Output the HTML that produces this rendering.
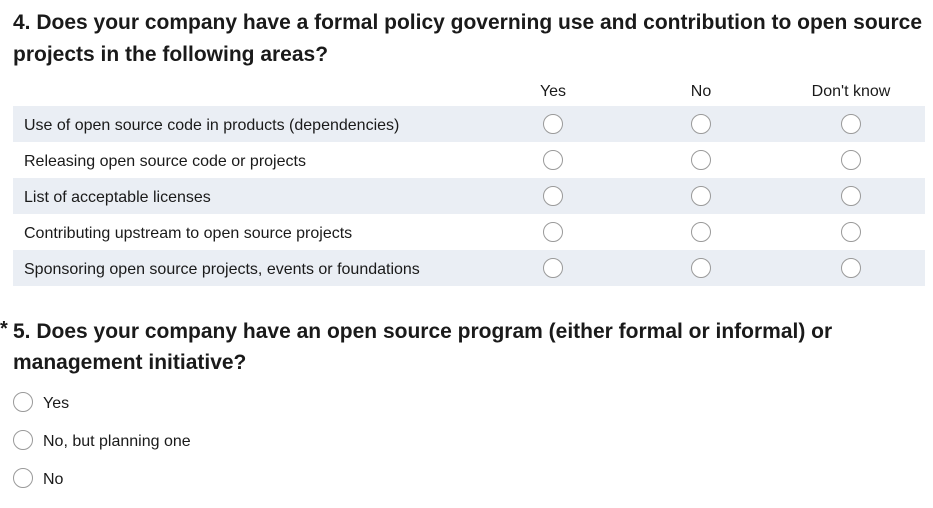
<!DOCTYPE html>
<html><head><meta charset="utf-8"><style>
body{margin:0;width:933px;height:508px;background:#fff;font-family:"Liberation Sans",Arial,sans-serif;color:#1a1a1a;position:relative;overflow:hidden}
.abs{position:absolute}
.q{font-weight:bold;font-size:21px;line-height:32px;left:13px;width:920px;white-space:nowrap}
.hdr{font-size:16px;top:83px;width:120px;text-align:center}
.row{left:13px;width:912px;height:36px}
.row.s{background:#eaeef4}
.lbl{position:absolute;left:11px;top:11px;font-size:16px}
.rad{width:18px;height:18px;border:1px solid #9a9a9a;border-radius:50%;background:#fff;box-sizing:content-box}
.opt{font-size:16px}
</style></head><body>
<div class="abs q" style="top:7px">4. Does your company have a formal policy governing use and contribution to open source<br>projects in the following areas?</div>
<div class="abs hdr" style="left:493px">Yes</div>
<div class="abs hdr" style="left:641px">No</div>
<div class="abs hdr" style="left:791px">Don't know</div>
<div id="grid"></div>
<div class="abs" style="left:0;top:318px;font-size:20px;font-weight:bold">*</div>
<div class="abs q" style="top:316px;line-height:31px">5. Does your company have an open source program (either formal or informal) or<br>management initiative?</div>
<div class="abs rad" style="left:13px;top:392px"></div>
<div class="abs opt" style="left:43px;top:395px">Yes</div>
<div class="abs rad" style="left:13px;top:430px"></div>
<div class="abs opt" style="left:43px;top:433px">No, but planning one</div>
<div class="abs rad" style="left:13px;top:468px"></div>
<div class="abs opt" style="left:43px;top:471px">No</div>
<script>
const rows=["Use of open source code in products (dependencies)","Releasing open source code or projects","List of acceptable licenses","Contributing upstream to open source projects","Sponsoring open source projects, events or foundations"];
const cols=[553,701,851];
const g=document.getElementById('grid');
rows.forEach((t,i)=>{
 const r=document.createElement('div');
 r.className='abs row'+(i%2===0?' s':'');
 r.style.top=(106+i*36)+'px';
 
 
 const l=document.createElement('span');l.className='lbl';l.textContent=t;
 
 
 r.appendChild(l);g.appendChild(r);
 cols.forEach(cx=>{
  const c=document.createElement('div');c.className='abs rad';
  c.style.left=(cx-10)+'px';c.style.top=(106+i*36+8)+'px';
  
  
  g.appendChild(c);
 });
});
</script>
</body></html>
